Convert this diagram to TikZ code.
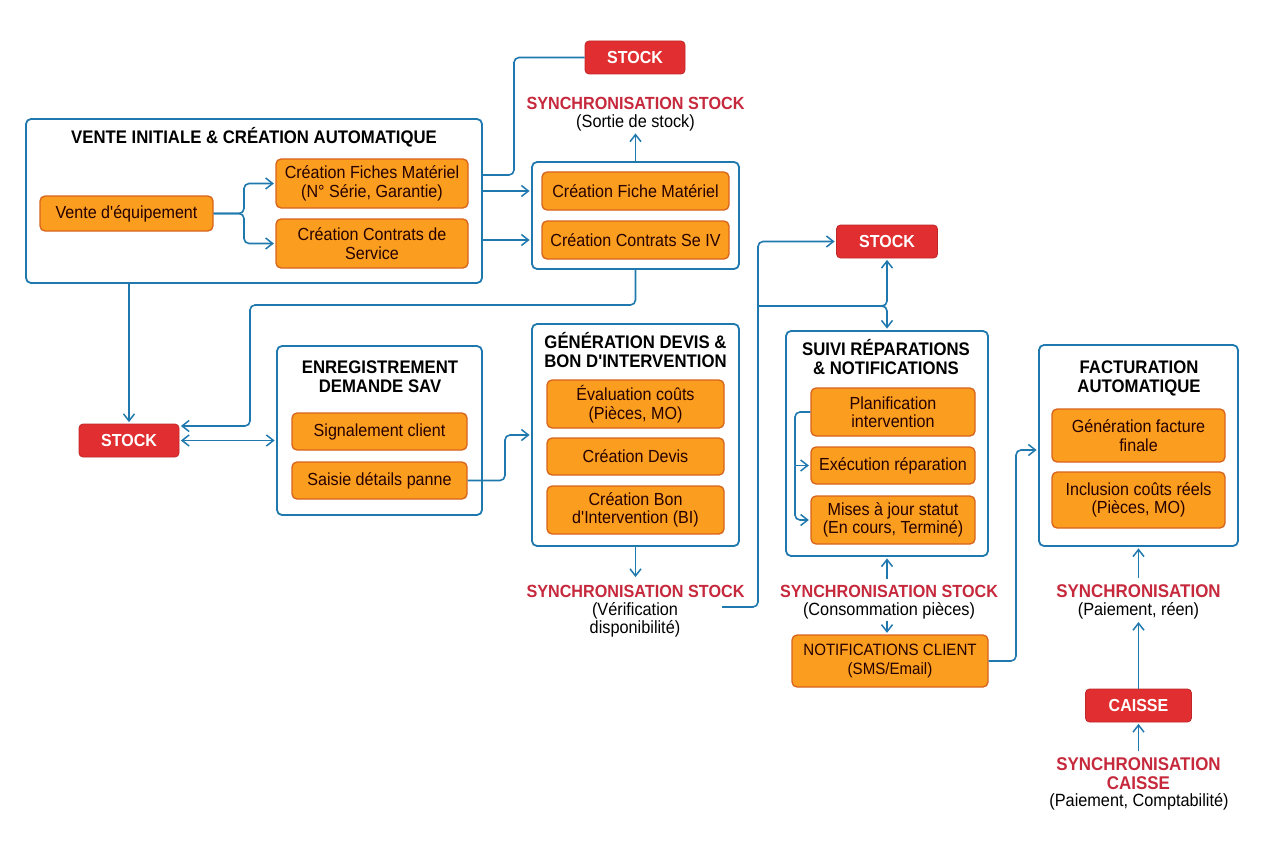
\documentclass[tikz,border=0pt]{standalone}
\usepackage{fontspec}
\setmainfont[FakeStretch=0.92,Ligatures=TeXOff]{Liberation Sans}
\usetikzlibrary{arrows.meta}
\definecolor{linkblue}{HTML}{1F78AE}
\definecolor{cardfill}{HTML}{FB9D1F}
\definecolor{carddraw}{HTML}{D8641C}
\definecolor{stockfill}{HTML}{E12E30}
\definecolor{syncred}{HTML}{C6283C}
\tikzset{
    wh/.style 2 args={minimum width=#1pt,minimum height=#2pt},
    groupbox/.style={draw=linkblue,line width=1.8pt,fill=white,rounded corners=5pt,inner sep=0pt},
    card/.style={draw=carddraw,line width=1.3pt,fill=cardfill,rounded corners=5pt,inner sep=0pt,
        align=center,text=black!85!red,font=\fontsize{17.5}{18.5}\selectfont},
    stockbox/.style={draw=stockfill!85!black,line width=.8pt,fill=stockfill,rounded corners=4pt,inner sep=0pt,
        text=white,font=\fontsize{17.4}{18}\selectfont\bfseries},
    grouptitle/.style={align=center,inner sep=0pt,font=\fontsize{18.2}{19}\selectfont\bfseries},
    synctext/.style={align=center,inner sep=6pt,text=syncred,font=\fontsize{17.6}{19}\selectfont\bfseries},
    subtext/.style={align=center,inner sep=1pt,font=\fontsize{17.7}{18}\selectfont},
    link/.style={draw=linkblue,line width=1.6pt,rounded corners=5pt},
    arrow/.style={link,shorten >=1.5pt,-{Straight Barb[length=7pt,width=11pt,line width=1.5pt]}},
    twoway/.style={link,shorten >=1.5pt,shorten <=1.5pt,{Straight Barb[length=7pt,width=11pt,line width=1.5pt]}-{Straight Barb[length=7pt,width=11pt,line width=1.5pt]}}
}
\begin{document}
\begin{tikzpicture}[x=1pt,y=-1pt]
    \useasboundingbox (0,0) rectangle (1264,848);

    % Vente initiale
    \node[groupbox,wh={456}{164}] (venteBox) at (254,201) {};
    \node[grouptitle] (venteTitle) at (254,137) {VENTE INITIALE \& CRÉATION AUTOMATIQUE};
    \node[card,wh={173}{35}] (venteEquip) at (126.5,213.5) {Vente d'équipement};
    \node[card,wh={192}{49}] (creaFiches) at (372,183.5) {Création Fiches Matériel\\(N° Série, Garantie)};
    \node[card,wh={192}{49}] (creaContrats) at (372,243.5) {Création Contrats de\\Service};

    % Fiche materiel et contrats
    \node[groupbox,wh={207}{107}] (ficheBox) at (635.5,215.5) {};
    \node[card,wh={187}{38}] (ficheMat) at (635.5,191) {Création Fiche Matériel};
    \node[card,wh={187}{38}] (contratSe) at (635.5,240) {Création Contrats Se IV};

    % Stock du haut
    \node[stockbox,wh={100}{33}] (stockTop) at (635,57.5) {STOCK};
    \node[synctext] (syncTop) at (635.5,103) {SYNCHRONISATION STOCK};
    \node[subtext] (subTop) at (635.5,122.5) {(Sortie de stock)};

    % Stock de gauche
    \node[stockbox,wh={100}{33}] (stockLeft) at (129,440.5) {STOCK};

    % Enregistrement SAV
    \node[groupbox,wh={205}{169}] (savBox) at (379.5,430.5) {};
    \node[grouptitle] (savTitle) at (380,376.5) {ENREGISTREMENT\\DEMANDE SAV};
    \node[card,wh={175}{37}] (signal) at (379.5,431.5) {Signalement client};
    \node[card,wh={175}{37}] (saisie) at (379.5,480.5) {Saisie détails panne};

    % Devis et BI
    \node[groupbox,wh={207}{222}] (devisBox) at (635.5,435) {};
    \node[grouptitle] (devisTitle) at (635.5,350.5) {GÉNÉRATION DEVIS \&\\BON D'INTERVENTION};
    \node[card,wh={177}{48}] (evalCout) at (635.5,404) {Évaluation coûts\\(Pièces, MO)};
    \node[card,wh={177}{37}] (creaDevis) at (635.5,456.5) {Création Devis};
    \node[card,wh={177}{48}] (creaBon) at (635.5,510) {Création Bon\\d'Intervention (BI)};
    \node[synctext] (syncDevis) at (635.5,591) {SYNCHRONISATION STOCK};
    \node[subtext] (subDevis) at (635,620) {(Vérification\\disponibilité)};

    % Stock du milieu
    \node[stockbox,wh={101}{33}] (stockMid) at (887,241.5) {STOCK};

    % Suivi reparations
    \node[groupbox,wh={202}{225}] (suiviBox) at (887,443.5) {};
    \node[grouptitle] (suiviTitle) at (886,357.5) {SUIVI RÉPARATIONS\\\& NOTIFICATIONS};
    \node[card,wh={164}{48}] (planif) at (893,412) {Planification\\intervention};
    \node[card,wh={164}{37}] (execRep) at (893,465.5) {Exécution réparation};
    \node[card,wh={164}{48}] (majStatut) at (893,520) {Mises à jour statut\\(En cours, Terminé)};
    \node[synctext] (syncSuivi) at (889,591) {SYNCHRONISATION STOCK};
    \node[subtext] (subSuivi) at (889,611) {(Consommation pièces)};
    \node[card,wh={196}{52},font=\fontsize{16.4}{18.5}\selectfont] (notif) at (890,661) {NOTIFICATIONS CLIENT\\(SMS/Email)};

    % Facturation
    \node[groupbox,wh={199}{201}] (factBox) at (1138.5,445.5) {};
    \node[grouptitle] (factTitle) at (1139,378.5) {FACTURATION\\AUTOMATIQUE};
    \node[card,wh={173}{53}] (genFact) at (1138.5,435.5) {Génération facture\\finale};
    \node[card,wh={173}{56}] (inclCout) at (1138.5,500) {Inclusion coûts réels\\(Pièces, MO)};
    \node[synctext,font=\fontsize{18.4}{19}\selectfont\bfseries] (syncFact) at (1138.5,591) {SYNCHRONISATION};
    \node[subtext] (subFact) at (1138.5,611) {(Paiement, réen)};

    % Caisse
    \node[stockbox,wh={106}{33}] (caisse) at (1138.5,705.5) {CAISSE};
    \node[synctext,font=\fontsize{18.4}{19}\selectfont\bfseries] (syncCaisse) at (1138.5,773.5) {SYNCHRONISATION\\CAISSE};
    \node[subtext] (subCaisse) at (1139,802) {(Paiement, Comptabilité)};

    % Points de passage
    \coordinate (venteOut) at (482,175);
    \coordinate (devisOut) at (722,607);
    \coordinate (midJoin) at (758,306);
    \coordinate (planRail) at (795,465.5);

    % Liaisons du haut
    \draw[link] (venteOut) -- (514,175) |- (stockTop.west);
    \draw[arrow] (venteBox.east |- ficheMat) -- (ficheBox.west |- ficheMat);
    \draw[arrow] (venteBox.east |- contratSe) -- (ficheBox.west |- contratSe);
    \draw[arrow] (ficheBox.north) -- (subTop.south);
    \draw[arrow] (venteEquip.east) -- (244,213.5) |- (creaFiches.west);
    \draw[arrow] (venteEquip.east) -- (244,213.5) |- (creaContrats.west);

    % Liaisons vers le stock de gauche
    \draw[arrow] (stockLeft.north |- venteBox.south) -- (stockLeft.north);
    \draw[arrow] (ficheBox.south) |- (250,305) |- (stockLeft.east |- 0,426);
    \draw[twoway] (stockLeft.east) -- (savBox.west |- stockLeft.east);

    % Devis
    \draw[arrow] (saisie.east) -- (505,480.5) |- (devisBox.west |- 0,435);
    \draw[arrow] (devisBox.south) -- (syncDevis.north);
    \draw[arrow] (devisOut) -| (midJoin) |- (stockMid.west);
    \draw[arrow] (midJoin) -| (stockMid.south);
    \draw[arrow] (midJoin) -| (suiviBox.north);

    % Suivi
    \draw[link] (planif.west) -| (planRail);
    \draw[arrow] (planRail) -- (execRep.west);
    \draw[arrow] (planRail) |- (majStatut.west);
    \draw[arrow] (suiviBox.south |- syncSuivi.north) -- (suiviBox.south);
    \draw[arrow] (suiviBox.south |- subSuivi.south) -- (suiviBox.south |- notif.north);
    \draw[arrow] (notif.east) -- (1016,661) |- (factBox.west |- 0,450);

    % Facturation
    \draw[arrow] (syncFact.north) -- (factBox.south);
    \draw[arrow] (caisse.north) -- (subFact.south);
    \draw[arrow] (syncCaisse.north) -- (caisse.south);
\end{tikzpicture}
\end{document}
